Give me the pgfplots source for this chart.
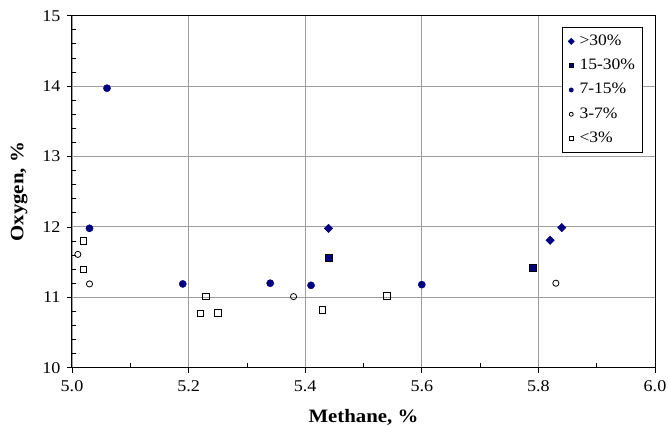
\documentclass[border=0pt]{standalone}
\usepackage{pgfplots}
\pgfplotsset{compat=1.18}
\usepackage{fontspec}
\setmainfont{Liberation Serif}[FakeStretch=1.1]
\definecolor{navy}{RGB}{0,0,128}
\begin{document}
\begin{tikzpicture}
\path[use as bounding box] (-72bp,-58.3bp) rectangle (596bp,367.7bp);
\begin{axis}[
  scale only axis, width=583bp, height=352bp,
  xmin=5, xmax=6, ymin=10, ymax=15,
  xtick={5,5.2,5.4,5.6,5.8,6},
  ytick={10,11,12,13,14,15},
  minor x tick num=1, minor y tick num=4,
  grid=major, major grid style={draw=black!38, line width=0.9bp},
  xtick pos=bottom, ytick pos=left,
  tick align=outside, major tick length=5bp, minor tick length=-4.5bp,
  axis line style={line width=1bp},
  tick style={black, line width=0.8bp},
  /pgf/number format/assume math mode=true,
  xticklabel style={yshift=-4bp, /pgf/number format/fixed, /pgf/number format/precision=1, /pgf/number format/fixed zerofill},
  yticklabel style={xshift=-3bp, /pgf/number format/fixed},
  ticklabel style={font=\fontsize{16.5}{16.5}\selectfont},
  xlabel={Methane, \%}, ylabel={Oxygen, \%},
  label style={font=\fontsize{19}{19}\selectfont\bfseries},
  xlabel style={at={(axis description cs:0.5,-0.156)}, anchor=base},
  ylabel style={at={(axis description cs:-0.0835,0.5)}, anchor=base},
  legend cell align=left,
  legend style={at={(axis description cs:0.8405,0.968)}, anchor=north west,
    draw=black, line width=0.8bp, font=\fontsize{16}{16}\selectfont,
    row sep=6.3bp, inner xsep=6bp, inner ysep=5bp,
    nodes={inner sep=1.5bp, text height=11.5bp, text depth=3.5bp},
    /tikz/every odd column/.append style={column sep=4bp}},
  legend image code/.code={\draw[#1,mark size=2bp] plot coordinates {(0bp,0bp)};},
]
\addplot[only marks, mark=square*, mark size=3bp, mark options={rotate=45, fill=navy, draw=navy}] coordinates {
(5.44,11.98) (5.82,11.81) (5.84,11.99)};
\addlegendentry{>30\%}
\addplot[only marks, mark=square*, mark size=3.5bp, mark options={fill=navy, draw=black, line width=0.8bp}] coordinates {
(5.44,11.56) (5.79,11.42)};
\addlegendentry{15-30\%}
\addplot[only marks, mark=*, mark size=3.6bp, mark options={fill=navy, draw=navy}] coordinates {
(5.03,11.98) (5.06,13.97) (5.19,11.19) (5.34,11.20) (5.41,11.17) (5.60,11.18)};
\addlegendentry{7-15\%}
\addplot[only marks, mark=o, mark size=3.1bp, mark options={draw=black, fill=white, line width=0.8bp}] coordinates {
(5.01,11.61) (5.03,11.19) (5.38,11.01) (5.83,11.20)};
\addlegendentry{3-7\%}
\addplot[only marks, mark=square, mark size=3.2bp, mark options={draw=black, fill=white, line width=0.8bp}] coordinates {
(5.02,11.80) (5.02,11.40) (5.22,10.77) (5.23,11.01) (5.25,10.78) (5.43,10.82) (5.54,11.02)};
\addlegendentry{<3\%}
\end{axis}
\end{tikzpicture}
\end{document}
